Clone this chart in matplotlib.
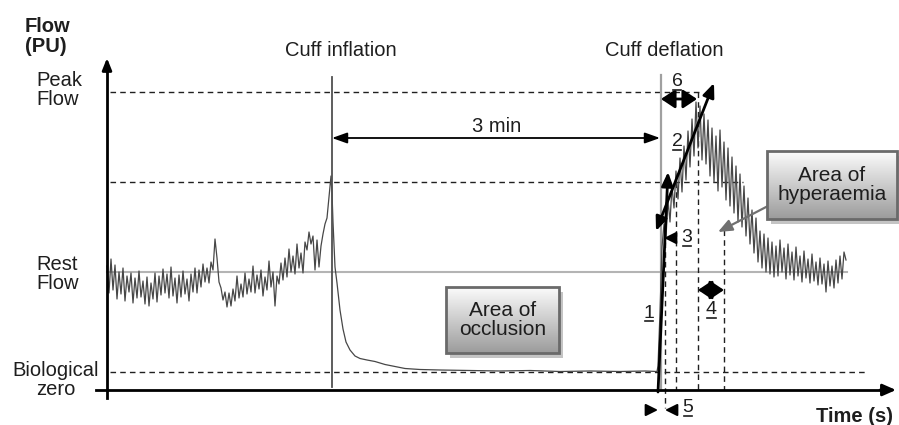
import numpy as np
import matplotlib
matplotlib.use("Agg")
import matplotlib.pyplot as plt
from matplotlib.patches import Rectangle
from matplotlib.lines import Line2D

plt.rcParams['font.family'] = ['Liberation Sans', 'DejaVu Sans']

# ---------------- data (time in arbitrary units, flow in PU) ----------------
biological_zero = 0.0
rest_flow = 10.0
mid_flow = 19.0
peak_flow = 28.0

cuff_inflation_t = 332
cuff_deflation_t = 661

# resting baseline, sampled every 2 time units from t = 107
baseline_start = 107
baseline_flow = [
    10.6, 7.9, 11.3, 8.2, 10.7, 7.3, 10.0, 7.8, 10.4, 7.1,
    9.6, 8.0, 9.9, 6.9, 9.4, 7.4, 10.1, 7.5, 9.1, 6.8,
    9.5, 6.6, 8.9, 7.3, 9.9, 7.0, 9.6, 7.7, 10.3, 7.9,
    9.8, 7.4, 10.5, 7.6, 9.4, 6.9, 9.7, 7.5, 10.1, 7.8,
    9.3, 7.1, 9.8, 8.0, 10.4, 7.9, 10.2, 8.5, 10.8, 9.0,
    10.4, 8.9, 11.0, 10.2, 13.3, 11.4, 9.0, 8.4, 7.2, 8.0,
    6.5, 7.9, 6.6, 8.3, 7.1, 9.6, 7.4, 8.8, 7.5, 9.9,
    7.8, 9.3, 8.0, 10.6, 7.9, 9.7, 8.3, 10.2, 7.6, 9.5,
    8.2, 11.1, 8.5, 10.0, 6.6, 9.6, 8.8, 10.9, 9.2, 11.4,
    9.5, 12.3, 10.0, 11.6, 9.8, 12.8, 10.4, 11.9, 9.9, 13.0,
    12.2, 14.0, 12.8, 13.6, 10.2, 13.2, 10.5, 12.6, 13.8, 14.8,
    15.4, 17.5, 19.6,
]

# occlusion phase
occlusion_time = [332, 333, 335, 337, 340, 343, 346, 350, 355, 360, 367, 375,
                  385, 395, 405, 420, 440, 470, 500, 530, 560, 590, 620, 645, 657]
occlusion_flow = [17.9, 15.0, 10.5, 8.9, 6.2, 4.3, 3.0, 2.2, 1.6, 1.35, 1.2, 1.05,
                  0.75, 0.55, 0.35, 0.25, 0.2, 0.15, 0.1, 0.15, 0.05, 0.1, 0.05, 0.1, 0.05]

# reactive hyperaemia, sampled every 2 time units from t = 658
hyperaemia_start = 658
hyperaemia_flow = [
    0.6, 6.0, 12.5, 14.8, 13.5, 17.2, 15.0, 18.6, 16.4, 20.1,
    17.3, 21.4, 18.0, 22.6, 19.2, 24.1, 20.5, 25.3, 21.6, 27.0,
    22.4, 26.6, 21.2, 25.8, 20.8, 25.2, 19.6, 24.4, 19.0, 23.6,
    18.1, 24.2, 18.5, 23.0, 17.2, 22.4, 16.6, 21.5, 15.9, 20.6,
    15.0, 19.8, 14.5, 18.6, 13.6, 17.4, 12.8, 16.2, 11.9, 15.4,
    11.0, 14.1, 10.4, 13.8, 10.0, 13.4, 9.8, 13.0, 9.5, 12.6,
    9.6, 13.2, 10.0, 12.4, 9.3, 12.8, 9.7, 12.0, 9.2, 12.5,
    9.6, 11.6, 9.0, 12.1, 9.4, 11.3, 8.9, 11.8, 9.1, 11.0,
    8.7, 11.4, 8.8, 10.8, 8.0, 11.1, 8.6, 10.6, 8.4, 11.2,
    8.9, 11.6, 9.3, 12.0, 11.2,
]

y_labels = ["Peak\nFlow", "Rest\nFlow", "Biological\nzero"]

# ---------------- figure ----------------
fig = plt.figure(figsize=(8.99, 4.25), dpi=100)
ax = fig.add_axes([0, 0, 1, 1])
ax.axis('off')
TXT = '#1e1e1e'

# trace
bt = baseline_start + 2 * np.arange(len(baseline_flow))
ht = hyperaemia_start + 2 * np.arange(len(hyperaemia_flow))
t_all = np.concatenate([bt, occlusion_time, ht])
f_all = np.concatenate([baseline_flow, occlusion_flow, hyperaemia_flow])
ax.plot(t_all, f_all, color='#474747', lw=0.9, zorder=3)

# reference levels
ax.plot([107, 847], [rest_flow, rest_flow], color='#b4b4b4', lw=1.5, zorder=1)
dash = dict(color='#202020', lw=1.0, ls=(0, (4, 3)), zorder=2)
ax.plot([110, 700], [peak_flow, peak_flow], **dash)
ax.plot([110, 743], [mid_flow, mid_flow], **dash)
ax.plot([110, 868], [biological_zero, biological_zero], **dash)

# vertical dashed markers
ax.plot([665, 665], [13.0, -3.6], **dash)
ax.plot([676, 676], [mid_flow, -1.8], **dash)
ax.plot([698, 698], [peak_flow, -1.8], **dash)
ax.plot([724, 724], [14.2, -1.8], **dash)

# cuff lines
ax.plot([cuff_inflation_t, cuff_inflation_t], [29.5, -1.5], color='#505050', lw=1.3, zorder=4)
ax.plot([cuff_deflation_t, cuff_deflation_t], [29.7, -1.8], color='#a0a0a0', lw=1.6, zorder=2)

# axes
ax.plot([107, 107], [-2.6, 30.5], color='black', lw=2.0, zorder=5)
ax.annotate('', xy=(107, 31.4), xytext=(107, 30.0),
            arrowprops=dict(arrowstyle='-|>,head_length=0.5,head_width=0.2', color='black',
                            lw=2, shrinkA=0, shrinkB=0, mutation_scale=14))
ax.plot([96, 885], [-1.8, -1.8], color='black', lw=2.0, zorder=5)
ax.annotate('', xy=(896, -1.8), xytext=(880, -1.8),
            arrowprops=dict(arrowstyle='-|>,head_length=0.5,head_width=0.22', color='black',
                            lw=2, shrinkA=0, shrinkB=0, mutation_scale=16))

# y labels
ax.text(36, 28.2, y_labels[0], ha='left', va='center', fontsize=14.5, color=TXT, linespacing=1.05)
ax.text(36, rest_flow - 0.2, y_labels[1], ha='left', va='center', fontsize=14.5, color=TXT, linespacing=1.05)
ax.text(56, -0.8, y_labels[2], ha='center', va='center', fontsize=14.5, color=TXT,
        linespacing=1.0, multialignment='center')

ax.text(25, 35.5, "Flow\n(PU)", ha='left', va='top', fontsize=14.5, fontweight='bold', color=TXT, linespacing=1.05)
ax.text(893, -4.5, "Time (s)", ha='right', va='center', fontsize=14.5, fontweight='bold', color=TXT)

ax.text(341, 32.2, "Cuff inflation", ha='center', va='center', fontsize=14.5, color=TXT)
ax.text(664, 32.2, "Cuff deflation", ha='center', va='center', fontsize=14.5, color=TXT)

# 3 min arrow
ax.annotate('', xy=(cuff_inflation_t, 23.4), xytext=(cuff_deflation_t - 1, 23.4),
            arrowprops=dict(arrowstyle='<|-|>,head_length=0.7,head_width=0.25', color='black',
                            lw=1.3, shrinkA=0, shrinkB=0, mutation_scale=13))
ax.text(497, 24.5, "3 min", ha='center', va='center', fontsize=14.5, color=TXT)

fat = dict(arrowstyle='<|-|>,head_length=0.6,head_width=0.4', color='black',
           lw=2.0, shrinkA=0, shrinkB=0, mutation_scale=14)
ax.annotate('', xy=(cuff_deflation_t, 27.3), xytext=(697, 27.3), arrowprops=fat)
ax.annotate('', xy=(698, 8.2), xytext=(724, 8.2), arrowprops=fat)

small = dict(arrowstyle='-|>,head_length=0.6,head_width=0.3', color='black',
             lw=1.5, shrinkA=0, shrinkB=0, mutation_scale=12)
ax.annotate('', xy=(658, -3.8), xytext=(647, -3.8), arrowprops=small)
ax.annotate('', xy=(665, -3.8), xytext=(677, -3.8), arrowprops=small)
ax.annotate('', xy=(664, 13.4), xytext=(675, 13.4), arrowprops=small)

# slope lines 1 and 2
ax.annotate('', xy=(668, 20.0), xytext=(658, -2.0),
            arrowprops=dict(arrowstyle='-|>,head_length=0.6,head_width=0.25', color='black',
                            lw=2.0, shrinkA=0, shrinkB=0, mutation_scale=14), zorder=6)
ax.annotate('', xy=(714, 28.9), xytext=(656, 14.1),
            arrowprops=dict(arrowstyle='<|-|>,head_length=0.6,head_width=0.25', color='black',
                            lw=2.0, shrinkA=0, shrinkB=0, mutation_scale=14), zorder=6)

# hyperaemia pointer
ax.annotate('', xy=(718, 14.0), xytext=(768, 16.6),
            arrowprops=dict(arrowstyle='-|>,head_length=0.6,head_width=0.25', color='#707070',
                            lw=1.6, shrinkA=0, shrinkB=0, mutation_scale=14), zorder=6)

# numbered labels (underlined)
num_labels = [("1", 649, 5.9), ("2", 677, 23.0), ("3", 687, 13.4),
              ("4", 711, 6.2), ("5", 688, -3.6), ("6", 677, 29.0)]
num_texts = []
for s, x, y in num_labels:
    num_texts.append(ax.text(x, y, s, ha='center', va='center', fontsize=14, color=TXT, zorder=7))


# gradient boxes
def grad_box(x0, x1, y0, y1, text):
    grad = np.linspace(0, 1, 100).reshape(-1, 1)
    ax.add_patch(Rectangle((x0 + 4, y0 - 0.5), x1 - x0, y1 - y0, facecolor='#c4c4c4',
                           edgecolor='none', zorder=7))
    cmap = matplotlib.colors.LinearSegmentedColormap.from_list('g', ['#9c9c9c', '#fbfbfb'])
    ax.imshow(grad, extent=[x0, x1, y0, y1], origin='lower', aspect='auto', cmap=cmap, zorder=8)
    ax.add_patch(Rectangle((x0, y0), x1 - x0, y1 - y0, facecolor='none',
                           edgecolor='#6a6a6a', lw=2.0, zorder=9))
    ax.text((x0 + x1) / 2, (y0 + y1) / 2, text, ha='center', va='center', fontsize=15,
            color=TXT, zorder=10, linespacing=1.0)


grad_box(446, 559, 1.9, 8.5, "Area of\nocclusion")
grad_box(767, 897, 15.3, 22.1, "Area of\nhyperaemia")

ax.set_xlim(0, 899)
ax.set_ylim(-5.3, 37.2)

# underline the numbered labels
fig.canvas.draw()
r = fig.canvas.get_renderer()
inv = ax.transData.inverted()
for t in num_texts:
    bb = t.get_window_extent(r)
    (xa, ya) = inv.transform((bb.x0 + 1, bb.y0 + 1))
    (xb, _) = inv.transform((bb.x1 - 1, bb.y0 + 1))
    ax.add_line(Line2D([xa, xb], [ya, ya], color=TXT, lw=1.2, zorder=7))

fig.savefig("out.png", dpi=100)
